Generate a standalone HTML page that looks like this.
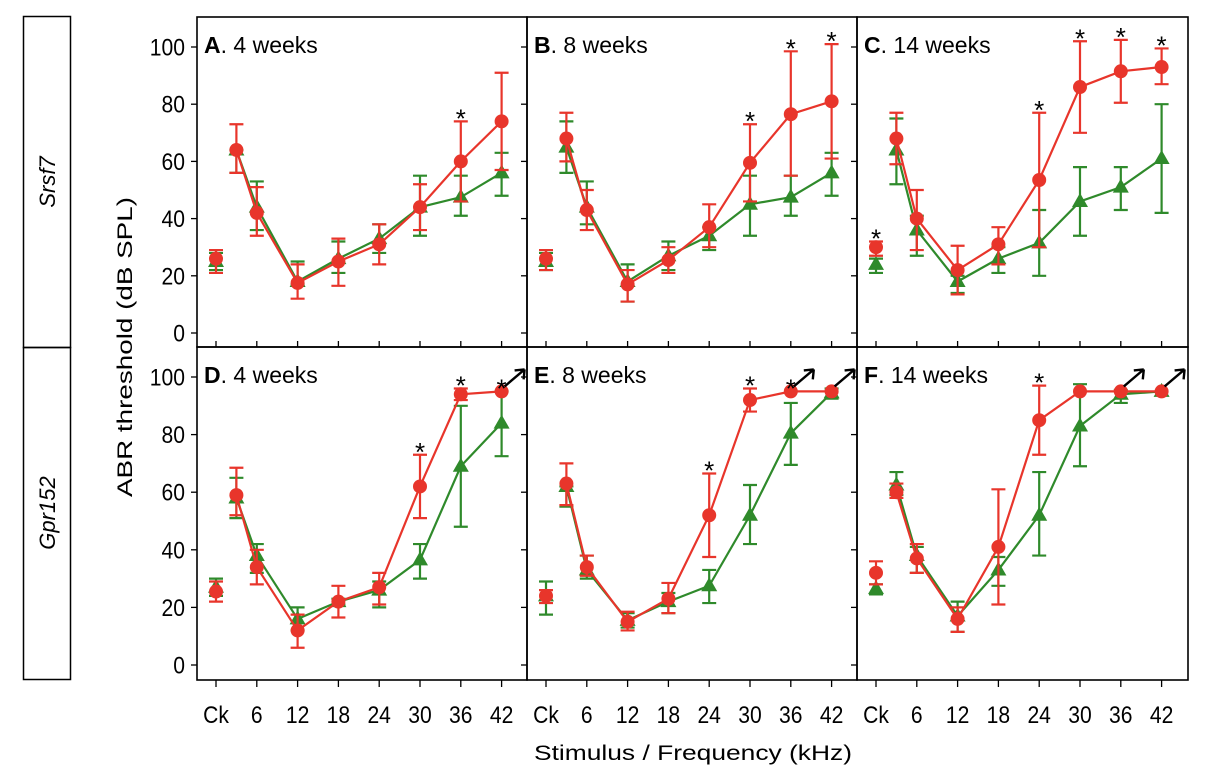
<!DOCTYPE html>
<html><head><meta charset="utf-8">
<style>
html,body{margin:0;padding:0;background:#fff;}
svg{display:block;font-family:"Liberation Sans",Arial,sans-serif;}
</style></head>
<body>
<svg id="chart" width="1222" height="784" viewBox="0 0 1222 784" xmlns="http://www.w3.org/2000/svg">
  <rect x="0" y="0" width="1222" height="784" fill="#fff"/>
  <rect x="23.5" y="16.5" width="47" height="331" fill="none" stroke="#000" stroke-width="1.5"/>
  <rect x="23.5" y="347.5" width="47" height="332" fill="none" stroke="#000" stroke-width="1.5"/>
  <text transform="translate(55,182) rotate(-90)" text-anchor="middle" font-size="22" font-style="italic">Srsf7</text>
  <text transform="translate(55,513) rotate(-90)" text-anchor="middle" font-size="22" font-style="italic">Gpr152</text>
  <text transform="translate(132,347) rotate(-90)" text-anchor="middle" font-size="21.5" textLength="300" lengthAdjust="spacingAndGlyphs">ABR threshold (dB SPL)</text>
  <text x="693" y="760" text-anchor="middle" font-size="21.5" textLength="318" lengthAdjust="spacingAndGlyphs">Stimulus / Frequency (kHz)</text>
  <g id="plots"></g>
</svg>
<script>
// shared categories (kHz; Ck = 0)
const freqs = [0, 3, 6, 12, 18, 24, 30, 36, 42];
const tickFreqs = [0, 6, 12, 18, 24, 30, 36, 42];
const tickLabels = ["Ck", "6", "12", "18", "24", "30", "36", "42"];
const yTicks = [0, 20, 40, 60, 80, 100];

// Panel A
const redA = [26, 64, 42, 17.5, 25, 31, 44, 60, 74];
const redALo = [21, 56, 34, 12, 16.5, 24, 36, 46, 57];
const redAHi = [29, 73, 51, 24, 33, 38, 52, 74, 91];
const greenA = [25, 64, 44, 18, 26, 33, 44, 47.5, 56];
const greenALo = [22, 56, 36, 17, 21, 28, 34, 41, 48];
const greenAHi = [28, 64, 53, 25, 32, 38, 55, 55, 63];
const starsA = [36];
const arrowsA = [];
// Panel B
const redB = [26, 68, 43, 17, 25.5, 37, 59.5, 76.5, 81];
const redBLo = [22, 60, 36, 11, 21, 30, 46, 55, 61];
const redBHi = [29, 77, 50, 22, 30, 45, 73, 98.5, 101];
const greenB = [25, 65, 44, 18, 27, 34, 45, 47.5, 56];
const greenBLo = [22, 56, 38, 11, 22, 29, 34, 41, 48];
const greenBHi = [28, 74, 53, 24, 32, 37, 55, 55, 63];
const starsB = [30, 36, 42];
const arrowsB = [];
// Panel C
const redC = [30, 68, 40, 22, 31, 53.5, 86, 91.5, 93];
const redCLo = [27, 59, 29, 13.5, 24, 30, 70, 80.5, 87];
const redCHi = [32, 77, 50, 30.5, 37, 77, 102, 102.5, 99.5];
const greenC = [24, 64, 36, 18, 26, 31.5, 46, 51, 61];
const greenCLo = [21, 52, 27, 14, 21, 20, 34, 43, 42];
const greenCHi = [26, 75, 41, 20, 30, 43, 58, 58, 80];
const starsC = [0, 24, 30, 36, 42];
const arrowsC = [];
// Panel D
const redD = [25.5, 59, 34, 12, 22, 27, 62, 94, 95];
const redDLo = [22, 52, 28, 6, 16.5, 21, 51, 92, 95];
const redDHi = [29, 68.5, 40, 17.5, 27.5, 32, 73, 96, 95];
const greenD = [27, 58, 38, 16, 22, 26, 36.5, 69, 84];
const greenDLo = [24, 51, 32, 12, 21, 20, 30, 48, 72.5];
const greenDHi = [30, 65, 42, 20, 23, 29, 42, 90, 95];
const starsD = [30, 36, 42];
const arrowsD = [42];
// Panel E
const redE = [24, 63, 34, 15, 23, 52, 92, 95, 95];
const redELo = [21.5, 55.5, 31, 12, 18, 37.5, 88, 95, 95];
const redEHi = [26, 70, 38, 18.5, 28.5, 66.5, 96, 95, 95];
const greenE = [24, 62, 33, 15.5, 22, 27.5, 52, 80.5, 94.5];
const greenELo = [17.5, 55, 30, 13, 18, 21.5, 42, 69.5, 92.5];
const greenEHi = [29, 62, 38, 18, 25, 33, 62.5, 91, 96];
const starsE = [24, 30, 36];
const arrowsE = [36, 42];
// Panel F
const redF = [32, 60, 37, 16, 41, 85, 95, 95, 95];
const redFLo = [28, 58, 32, 11.5, 21, 73, 95, 95, 95];
const redFHi = [36, 63, 42, 20, 61, 97, 95, 95, 95];
const greenF = [26.5, 62.5, 38, 17, 33, 52, 83, 94, 95];
const greenFLo = [24.5, 59, 32, 11.5, 27.5, 38, 69, 91, 95];
const greenFHi = [28, 67, 41, 22, 37.5, 67, 97.5, 95.5, 95];
const starsF = [24];
const arrowsF = [36, 42];

const panelTitles = ["A", "B", "C", "D", "E", "F"];
const panelWeeks = ["4 weeks", "8 weeks", "14 weeks", "4 weeks", "8 weeks", "14 weeks"];

const NS = "http://www.w3.org/2000/svg";
const root = document.getElementById("plots");
const RED = "#e8352b", GREEN = "#2f8a2b";

function mk(tag, attrs, parent) {
  const e = document.createElementNS(NS, tag);
  for (const k in attrs) e.setAttribute(k, attrs[k]);
  parent.appendChild(e);
  return e;
}

const panels = [
  {x0:197, y0:17, w:330, h:330, y100:47, yZero:333, row:0, red:[redA,redALo,redAHi], green:[greenA,greenALo,greenAHi], stars:starsA, arrows:arrowsA},
  {x0:527, y0:17, w:330, h:330, y100:47, yZero:333, row:0, red:[redB,redBLo,redBHi], green:[greenB,greenBLo,greenBHi], stars:starsB, arrows:arrowsB},
  {x0:857, y0:17, w:331, h:330, y100:47, yZero:333, row:0, red:[redC,redCLo,redCHi], green:[greenC,greenCLo,greenCHi], stars:starsC, arrows:arrowsC},
  {x0:197, y0:347, w:330, h:333, y100:377, yZero:665, row:1, red:[redD,redDLo,redDHi], green:[greenD,greenDLo,greenDHi], stars:starsD, arrows:arrowsD},
  {x0:527, y0:347, w:330, h:333, y100:377, yZero:665, row:1, red:[redE,redELo,redEHi], green:[greenE,greenELo,greenEHi], stars:starsE, arrows:arrowsE},
  {x0:857, y0:347, w:331, h:333, y100:377, yZero:665, row:1, red:[redF,redFLo,redFHi], green:[greenF,greenFLo,greenFHi], stars:starsF, arrows:arrowsF}
];

panels.forEach((p, pi) => {
  const xs = f => p.x0 + 19 + f * (40.8 / 6);
  const ys = v => p.yZero + (p.y100 - p.yZero) * v / 100;
  const g = mk("g", {}, root);
  
  

  const fr = mk("rect", {x:p.x0, y:p.y0, width:p.w, height:p.h, fill:"none", stroke:"#000", "stroke-width":1.6}, g);
  
  

  yTicks.forEach(t => {
    const tk = mk("line", {x1:p.x0 - 6, x2:p.x0, y1:ys(t), y2:ys(t), stroke:"#000", "stroke-width":1.3}, g);
    
    
    if (pi % 3 === 0) {
      const tl = mk("text", {x:p.x0 - 12, y:ys(t) + 8.5, "text-anchor":"end", "font-size":24}, g);
      tl.setAttribute('transform', `translate(${p.x0 - 12},0) scale(0.88,1) translate(${-(p.x0 - 12)},0)`);
      tl.textContent = t;
      
      
    }
  });
  tickFreqs.forEach((f, i) => {
    const yb = p.y0 + p.h;
    const tk = mk("line", {x1:xs(f), x2:xs(f), y1: p.row === 0 ? yb - 6 : yb, y2: p.row === 0 ? yb : yb + 7, stroke:"#000", "stroke-width":1.3}, g);
    
    
    if (p.row === 1) {
      const tl = mk("text", {x:xs(f), y:723, "text-anchor":"middle", "font-size":24}, g);
      tl.setAttribute('transform', `translate(${xs(f)},0) scale(0.88,1) translate(${-xs(f)},0)`);
      tl.textContent = tickLabels[i];
      
      
    }
  });
  const tt = mk("text", {x:p.x0 + 7, y:p.y0 + 36, "font-size":23}, g);
  
  
  const tb = mk("tspan", {"font-weight":"bold"}, tt);
  tb.textContent = panelTitles[pi];
  const tr = mk("tspan", {}, tt);
  tr.textContent = ". " + panelWeeks[pi];

  function series(arr, color, kind) {
    const [vals, lo, hi] = arr;
    const sg = mk("g", {}, g);
    
    
    freqs.forEach((f, i) => {
      if (hi[i] === lo[i]) return;
      const x = xs(f);
      const eb = mk("path", {d:`M${x},${ys(lo[i])}V${ys(hi[i])}M${x-7},${ys(lo[i])}H${x+7}M${x-7},${ys(hi[i])}H${x+7}`, stroke:color, "stroke-width":2.2, fill:"none"}, sg);
      
      
    });
    let d = "";
    freqs.forEach((f, i) => { if (i > 0) d += (i === 1 ? "M" : "L") + xs(f) + "," + ys(vals[i]); });
    const ln = mk("path", {d:d, stroke:color, "stroke-width":2.2, fill:"none"}, sg);
    
    
    freqs.forEach((f, i) => {
      const x = xs(f), y = ys(vals[i]);
      let m;
      if (kind === "red") {
        m = mk("circle", {cx:x, cy:y, r:7, fill:color}, sg);
      } else {
        m = mk("path", {d:`M${x},${y-8.5}L${x+8},${y+5.5}L${x-8},${y+5.5}Z`, fill:color}, sg);
      }
      
      
    });
  }
  series(p.green, GREEN, "green");
  series(p.red, RED, "red");

  p.stars.forEach(f => {
    const i = freqs.indexOf(f);
    const top = Math.max(p.red[2][i], p.green[2][i], p.red[0][i]);
    const st = mk("text", {x:xs(f), y:ys(top) + 6, "text-anchor":"middle", "font-size":26}, g);
    st.textContent = "*";
    
    
  });
  p.arrows.forEach(f => {
    const i = freqs.indexOf(f);
    const x = xs(f) + 3, y = ys(p.red[0][i]) - 5;
    const ar = mk("path", {d:`M${x},${y}L${x+20},${y-17}M${x+20},${y-17}l-10,1M${x+20},${y-17}l-1,10`, stroke:"#000", "stroke-width":2.4, fill:"none"}, g);
    
    
  });
});
</script>
</body></html>
